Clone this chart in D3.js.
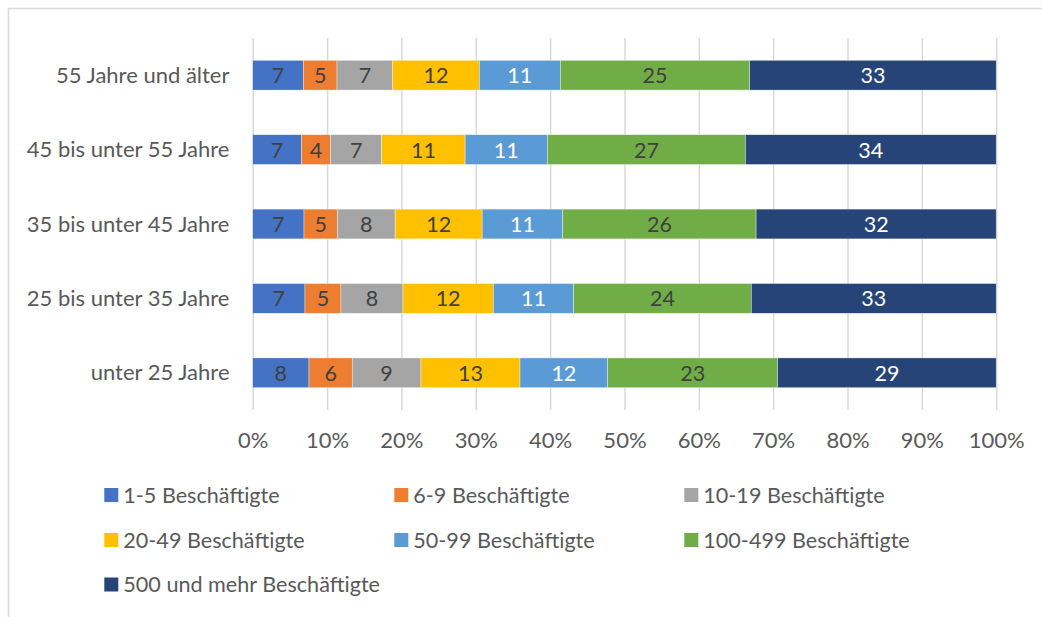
<!DOCTYPE html>
<html>
<head>
<meta charset="utf-8">
<script src="https://cdn.jsdelivr.net/npm/d3@7"></script>
<style>
  html, body { margin: 0; padding: 0; background: #fff; }
  svg { display: block; font-family: Lato, "Open Sans", sans-serif; }
</style>
</head>
<body>
<svg id="chart" width="1042" height="617"></svg>
<script>
// ---- data ----
const categories = ["55 Jahre und älter", "45 bis unter 55 Jahre", "35 bis unter 45 Jahre", "25 bis unter 35 Jahre", "unter 25 Jahre"];
const seriesNames = ["1-5 Beschäftigte", "6-9 Beschäftigte", "10-19 Beschäftigte", "20-49 Beschäftigte", "50-99 Beschäftigte", "100-499 Beschäftigte", "500 und mehr Beschäftigte"];
const s1_5     = [6.81, 6.55, 6.90, 7.03, 7.57];
const s6_9     = [4.53, 3.94, 4.50, 4.84, 5.82];
const s10_19   = [7.49, 6.86, 7.76, 8.34, 9.24];
const s20_49   = [11.65, 11.22, 11.70, 12.15, 13.32];
const s50_99   = [10.89, 11.07, 10.84, 10.81, 11.80];
const s100_499 = [25.47, 26.63, 26.01, 23.89, 22.86];
const s500     = [33.15, 33.73, 32.29, 32.94, 29.39];
const tickValues = [0, 0.1, 0.2, 0.3, 0.4, 0.5, 0.6, 0.7, 0.8, 0.9, 1.0];
const colors = ["#4472C4", "#ED7D31", "#A5A5A5", "#FFC000", "#5B9BD5", "#70AD47", "#264478"];
const labelColors = ["#404040", "#404040", "#404040", "#404040", "#ffffff", "#404040", "#ffffff"];

const seriesValues = [s1_5, s6_9, s10_19, s20_49, s50_99, s100_499, s500];
const table = categories.map((c, i) => {
  const row = { category: c };
  seriesNames.forEach((s, j) => row[s] = seriesValues[j][i]);
  return row;
});

const svg = d3.select("#chart");

// chart border
svg.append("rect")
  .attr("x", 8.5).attr("y", 8.5)
  .attr("width", 1100).attr("height", 700)
  .attr("fill", "none").attr("stroke", "#d9d9d9").attr("stroke-width", 1.5);

const plotLeft = 252.7, plotRight = 996.2, plotTop = 38, plotBottom = 410;
const x = d3.scaleLinear().domain([0, 1]).range([plotLeft, plotRight]);
const y = d3.scaleBand().domain(categories).range([plotTop, plotBottom]).paddingInner(0.6).paddingOuter(0.3);

// gridlines
svg.append("g")
  .attr("transform", `translate(0,${plotBottom})`)
  .call(d3.axisBottom(x).tickValues(tickValues).tickSize(-(plotBottom - plotTop)).tickFormat(""))
  .call(g => g.select(".domain").remove())
  .call(g => g.selectAll("line").attr("stroke", "#d9d9d9").attr("stroke-width", 1.5));

// tick labels
svg.append("g")
  .attr("transform", `translate(0,${plotBottom})`)
  .call(d3.axisBottom(x).tickValues(tickValues).tickSize(0).tickPadding(0).tickFormat(d3.format(".0%")))
  .call(g => g.select(".domain").remove())
  .call(g => g.selectAll("text")
    .attr("dy", null).attr("y", 38)
    .attr("fill", "#595959").attr("font-size", "22px")
    .attr("font-family", "Lato, 'Open Sans', sans-serif"));

// stacked bars
const stack = d3.stack().keys(seriesNames).offset(d3.stackOffsetExpand);
const stacked = stack(table);

const layers = svg.append("g").selectAll("g")
  .data(stacked).join("g")
  .attr("fill", (d, i) => colors[i]);

layers.selectAll("rect")
  .data(d => d).join("rect")
  .attr("x", d => x(d[0]))
  .attr("y", d => y(d.data.category))
  .attr("width", d => x(d[1]) - x(d[0]))
  .attr("height", y.bandwidth())
  .attr("stroke", "#ffffff").attr("stroke-width", 0.6).attr("stroke-opacity", 0.6);

// data labels
stacked.forEach((layer, i) => {
  svg.append("g").selectAll("text")
    .data(layer).join("text")
    .attr("x", d => (x(d[0]) + x(d[1])) / 2)
    .attr("y", d => y(d.data.category) + y.bandwidth() / 2 + 8)
    .attr("text-anchor", "middle")
    .attr("font-size", "21.5px")
    .attr("fill", labelColors[i])
    .text(d => Math.round(d.data[layer.key]));
});

// category labels
svg.append("g").selectAll("text")
  .data(categories).join("text")
  .attr("x", 229.5)
  .attr("y", d => y(d) + y.bandwidth() / 2 + 7.5)
  .attr("text-anchor", "end")
  .attr("font-size", "22px")
  .attr("fill", "#595959")
  .text(d => d);

// legend
const legendX = [104.3, 394.3, 684.3];
const legendY = [495, 540, 584.5];
const legend = svg.append("g").selectAll("g")
  .data(seriesNames).join("g")
  .attr("transform", (d, i) => `translate(${legendX[i % 3]},${legendY[Math.floor(i / 3)]})`);
legend.append("rect")
  .attr("x", 0).attr("y", -7).attr("width", 14).attr("height", 14)
  .attr("fill", (d, i) => colors[i]);
legend.append("text")
  .attr("x", 19).attr("y", 7.5)
  .attr("font-size", "21.6px")
  .attr("fill", "#595959")
  .text(d => d);
</script>
</body>
</html>
